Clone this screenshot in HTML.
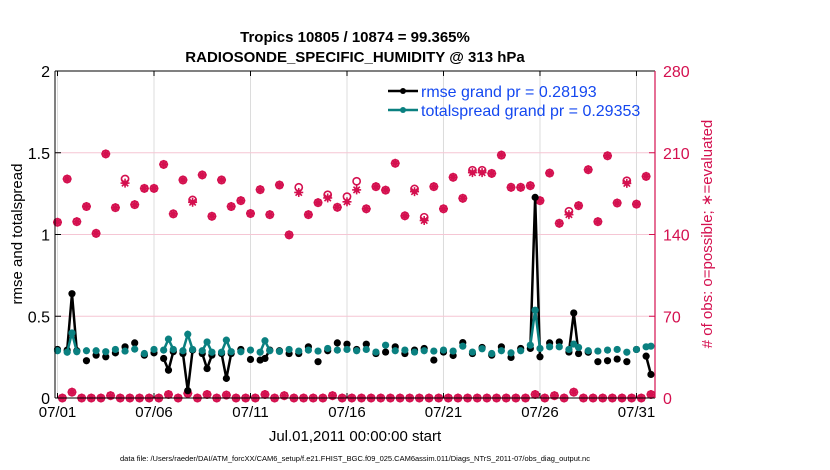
<!DOCTYPE html>
<html><head><meta charset="utf-8"><style>
html,body{margin:0;padding:0;background:#fff;}
svg{display:block;font-family:"Liberation Sans",sans-serif;}
</style></head><body>
<svg id="chart" width="830" height="470" viewBox="0 0 830 470">
<rect x="0" y="0" width="830" height="470" fill="#fff"/>
<g id="grid"></g>
<g id="counts"></g>
<g id="lines"></g>
<g id="axes"></g>
<text x="355" y="42" text-anchor="middle" font-size="15" font-weight="bold">Tropics 10805 / 10874 = 99.365%</text>
<text x="355" y="62" text-anchor="middle" font-size="15" font-weight="bold">RADIOSONDE_SPECIFIC_HUMIDITY @ 313 hPa</text>
<text transform="translate(22,234) rotate(-90)" text-anchor="middle" font-size="15">rmse and totalspread</text>
<text transform="translate(712,234) rotate(-90)" text-anchor="middle" font-size="15" fill="#d4104f"># of obs: o=possible; ∗=evaluated</text>
<text x="355" y="441" text-anchor="middle" font-size="15">Jul.01,2011 00:00:00 start</text>
<text x="355" y="461" text-anchor="middle" font-size="7.5">data file: /Users/raeder/DAI/ATM_forcXX/CAM6_setup/f.e21.FHIST_BGC.f09_025.CAM6assim.011/Diags_NTrS_2011-07/obs_diag_output.nc</text>
<g>
<g>
<line x1="388" y1="91" x2="418" y2="91" stroke="#000" stroke-width="2.5"/><circle cx="403" cy="91" r="3" fill="#000"/>
<text x="421" y="97" font-size="16" fill="#1448f0">rmse grand pr = 0.28193</text></g>
<g>
<line x1="388" y1="110" x2="418" y2="110" stroke="#0a8080" stroke-width="2.5"/><circle cx="403" cy="110" r="3" fill="#0a8080"/>
<text x="421" y="116" font-size="16" fill="#1448f0">totalspread grand pr = 0.29353</text></g>
</g>
</svg>
<script>
const xTickDays=[0,5,10,15,20,25,30];
const xTickLabels=["07/01","07/06","07/11","07/16","07/21","07/26","07/31"];
const yTicks=[0,0.5,1,1.5,2];
const yTickLabels=["0","0.5","1","1.5","2"];
const rTicks=[0,70,140,210,280];
const rTickLabels=["0","70","140","210","280"];
const topPossible=[150.5,187.5,151,164,141,209,163,187.5,165.6,179.5,179.5,200,157.7,186.7,169.6,191,155.6,186.7,164,169,158,178.4,157,182.4,139.7,180.4,157,167.3,174,163.3,172.4,185.6,162,181,178,201,156,179,154.8,181,162,189,171,195,195,192.3,208,180.4,180.4,181.8,169,192.6,149.6,159.9,164.7,195.5,151,207.4,167,186,166,189.8];
const topEvaluated=[150.5,187.5,151,164,141,209,163,184,165.6,179.5,179.5,200,157.7,186.7,167.6,191,155.6,186.7,164,169,158,178.4,157,182.4,139.7,176,157,167.3,171.3,163.3,168,178.2,162,181,178,201,156,176.7,152,181,162,189,171,193,193,192.3,208,180.4,180.4,181.8,169,192.6,149.6,157,164.7,195.5,151,207.4,167,183.8,166,189.8];
const topRmse=[.297,.293,.289,.228,.262,.252,.276,.313,.337,.262,.276,.242,.283,.272,.293,.272,.262,.272,.272,.297,.236,.232,.293,.289,.272,.272,.313,.222,.289,.337,.329,.297,.329,.272,.281,.313,.272,.293,.303,.232,.281,.26,.339,.272,.309,.262,.313,.248,.303,.303,.252,.337,.343,.281,.272,.28,.222,.228,.238,.222,.297,.256];
const topSpread=[.289,.28,.283,.289,.289,.283,.297,.287,.299,.272,.297,.293,.297,.289,.297,.289,.28,.28,.283,.283,.293,.28,.289,.285,.297,.287,.293,.287,.303,.293,.297,.289,.297,.281,.323,.289,.293,.281,.289,.287,.293,.287,.317,.281,.301,.272,.289,.276,.289,.323,.303,.313,.313,.297,.309,.289,.287,.293,.297,.28,.297,.313];
const botCount=[0,5,0,0,0,2,0,0,0,0,0,3,0,4,0,3,0,2.5,0,0,0,3,0,2,0,0,0,0,2,0,0,0,0,0,0,0,0,0,0,0,0,0,0,0,0,0,0,0,0,3,0,2,0,5,0,0,0,0,0,0,0,3];
const botRmse=[null,.638,null,null,null,null,null,null,null,null,null,.17,null,.045,null,.18,null,.12,null,null,null,.242,null,null,null,null,null,null,null,null,null,null,null,null,null,null,null,null,null,null,null,null,null,null,null,null,null,null,null,1.227,null,null,null,.52,null,null,null,null,null,null,null,.144];
const botSpread=[null,.398,null,null,null,null,null,null,null,null,null,.36,null,.39,null,.343,null,.354,null,null,null,.35,null,null,null,null,null,null,null,null,null,null,null,null,null,null,null,null,null,null,null,null,null,null,null,null,null,null,null,.537,null,null,null,.33,null,null,null,null,null,null,null,.317];

const X0=55,X1=655,Y0=398,Y1=71,D0=-0.13,D1=30.96;
const NS="http://www.w3.org/2000/svg";
function xS(d){return X0+(d-D0)/(D1-D0)*(X1-X0);}
function yL(v){return Y0-v/2*(Y0-Y1);}
function yR(v){return Y0-v/280*(Y0-Y1);}
function mk(tag,attrs,parent){const e=document.createElementNS(NS,tag);for(const k in attrs)e.setAttribute(k,attrs[k]);parent.appendChild(e);return e;}
const grid=document.getElementById('grid'),counts=document.getElementById('counts'),lines=document.getElementById('lines'),axes=document.getElementById('axes');
const PINK="#d4104f";
xTickDays.forEach((d,i)=>{
  const g=mk('line',{x1:xS(d),x2:xS(d),y1:Y1,y2:Y0,stroke:"#dcdcdc","stroke-width":1},grid);
  
  
  mk('line',{x1:xS(d),x2:xS(d),y1:Y0,y2:Y0-5,stroke:"#000"},axes);
  mk('line',{x1:xS(d),x2:xS(d),y1:Y1,y2:Y1+5,stroke:"#000"},axes);
  const t=mk('text',{x:xS(d),y:417,"text-anchor":"middle","font-size":15},axes);
  t.textContent=xTickLabels[i];
  
  
});
rTicks.forEach((v,i)=>{
  if(v>0&&v<280){const g=mk('line',{x1:X0,x2:X1,y1:yR(v),y2:yR(v),stroke:"#f5c6d4","stroke-width":1},grid);
  
  }
  mk('line',{x1:X1,x2:X1-6,y1:yR(v),y2:yR(v),stroke:PINK},axes);
  const t=mk('text',{x:663,y:yR(v)+6,"font-size":16,fill:PINK},axes);
  t.textContent=rTickLabels[i];
  
  
});
yTicks.forEach((v,i)=>{
  mk('line',{x1:X0,x2:X0+6,y1:yL(v),y2:yL(v),stroke:"#000"},axes);
  const t=mk('text',{x:X0-5,y:yL(v)+6,"text-anchor":"end","font-size":16},axes);
  t.textContent=yTickLabels[i];
  
  
});
mk('line',{x1:X0,x2:X1,y1:Y1,y2:Y1,stroke:"#000"},axes);
mk('line',{x1:X0,x2:X1,y1:Y0,y2:Y0,stroke:"#000"},axes);
mk('line',{x1:X0,x2:X0,y1:Y1,y2:Y0,stroke:"#000"},axes);
mk('line',{x1:X1,x2:X1,y1:Y1,y2:Y0,stroke:PINK,"stroke-width":1.2},axes);

function star(cx,cy,name){
  const g=mk('g',{stroke:PINK,"stroke-width":1.6},counts);
  
  
  const r=4.5;
  for(let a=0;a<4;a++){const t=a*Math.PI/4;mk('line',{x1:cx-r*Math.cos(t),y1:cy-r*Math.sin(t),x2:cx+r*Math.cos(t),y2:cy+r*Math.sin(t)},g);}
  mk('circle',{cx:cx,cy:cy,r:2.6,fill:PINK,stroke:"none"},g);
}
function ring(cx,cy,name){
  const c=mk('circle',{cx:cx,cy:cy,r:3.6,fill:"none",stroke:PINK,"stroke-width":1.6},counts);
  
  
}
topPossible.forEach((v,i)=>{ring(xS(i*0.5),yR(v),'possible-marker');star(xS(i*0.5),yR(topEvaluated[i]),'evaluated-marker');});
botCount.forEach((v,j)=>{ring(xS(j*0.5+0.25),yR(v),'possible-marker');star(xS(j*0.5+0.25),yR(v),'evaluated-marker');});

function series(top,bot,color,name){
  const pts=[];
  for(let j=0;j<top.length;j++){pts.push([j*0.5,top[j]]);pts.push([j*0.5+0.25,bot[j]]);}
  let seg=[];const segs=[];
  pts.forEach(p=>{if(p[1]==null){if(seg.length)segs.push(seg);seg=[];}else seg.push(p);});
  if(seg.length)segs.push(seg);
  segs.forEach(s=>{if(s.length>1){const pl=mk('polyline',{points:s.map(p=>xS(p[0])+","+yL(p[1])).join(" "),fill:"none",stroke:color,"stroke-width":2.5},lines);
    
    }});
  pts.forEach(p=>{if(p[1]!=null){const c=mk('circle',{cx:xS(p[0]),cy:yL(p[1]),r:3.6,fill:color},lines);
    
    }});
}
series(topRmse,botRmse,"#000",'rmse');
series(topSpread,botSpread,"#0a8080",'totalspread');
</script>
</body></html>
